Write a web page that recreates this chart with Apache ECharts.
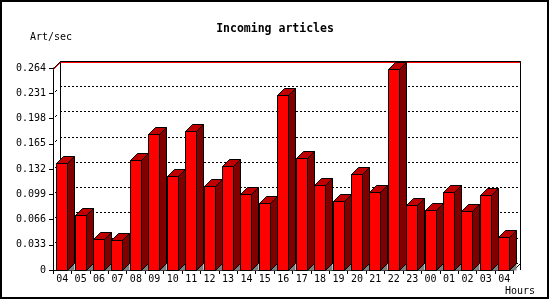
<!DOCTYPE html>
<html><head><meta charset="utf-8">
<script src="https://cdn.jsdelivr.net/npm/echarts@6/dist/echarts.min.js"></script>
<style>html,body{margin:0;padding:0;background:#fff}#c{width:550px;height:300px}</style>
</head><body><div id="c"></div>
<script>
const hours = ['04','05','06','07','08','09','10','11','12','13','14','15','16','17','18','19','20','21','22','23','00','01','02','03','04'];
const artPerSec = [0.1394, 0.0715, 0.0401, 0.0388, 0.1433, 0.1773, 0.1224, 0.1812, 0.1093, 0.1359, 0.0993, 0.0863, 0.2283, 0.1460, 0.1107, 0.0897, 0.1242, 0.1015, 0.2623, 0.0845, 0.0780, 0.1015, 0.0767, 0.0976, 0.0427];
const yMin = 0;
const yMax = 0.264;
const yStep = 0.033;
const yTickLabels = ['0', '0.033', '0.066', '0.099', '0.132', '0.165', '0.198', '0.231', '0.264'];
const titleText = 'Incoming articles';
const yName = 'Art/sec';
const xName = 'Hours';

const FONT = 'DejaVu Sans Mono';
const D = 7;      // 3D depth
const BW = 11;    // bar front width
const c = v => Math.round(v - 0.5) + 0.5;

function barItem(params, api) {
  const i = api.value(0), v = api.value(1);
  const t = api.coord([i, v]), b = api.coord([i, yMin]);
  const x0 = c(t[0] - BW / 2), x1 = x0 + BW;
  const yt = c(t[1]), yb = c(b[1]);
  return { type: 'group', children: [
    { type: 'polygon', shape: { points: [[x1, yb], [x1 + D, yb - D], [x1 + D, yb]] }, style: { fill: '#808080' } },
    { type: 'rect', shape: { x: x0, y: yt, width: BW, height: yb - yt }, style: { fill: '#ff0000', stroke: '#000', lineWidth: 1 } },
    { type: 'polygon', shape: { points: [[x1, yt], [x1 + D, yt - D], [x1 + D, yb - D], [x1, yb]] }, style: { fill: '#800000', stroke: '#000', lineWidth: 1 } },
    { type: 'polygon', shape: { points: [[x0, yt], [x0 + D, yt - D], [x1 + D, yt - D], [x1, yt]] }, style: { fill: '#c00000', stroke: '#000', lineWidth: 1 } }
  ]};
}

function frameItem(params, api) {
  const cs = params.coordSys;
  const L = c(cs.x), R = c(cs.x + cs.width);
  const T = api.coord([0, yMax])[1], B = api.coord([0, yMin])[1];
  const bt = c(T - D), bb = c(B - D);
  const line = (x1, y1, x2, y2, col) => ({ type: 'line', shape: { x1, y1, x2, y2 }, style: { stroke: col, lineWidth: 1 } });
  const ch = [
    line(L + D, bt, R + D, bt, '#000'),
    line(L + D, bt + 1, R + D, bt + 1, '#ff0000'),
    line(L + D, bt, L + D, bb, '#000'),
    line(R + D, bt, R + D, B, '#000'),
    line(L, c(T), L + D, bt, '#000'),
    line(L, c(T) + 1, L + D, bt + 1, '#ff0000'),
    line(R, c(B), R + D, bb, '#000')
  ];
  for (let k = 1; k < yTickLabels.length - 1; k++) {
    const y = c(api.coord([0, yMin + k * yStep])[1]);
    ch.push(line(L + 1.5, y - 1.5, L + 3.5, y - 3.5, '#000'));
  }
  return { type: 'group', children: ch };
}

const chart = echarts.init(document.getElementById('c'), null, { renderer: 'canvas' });
chart.setOption({
  animation: false,
  backgroundColor: '#fff',
  title: { text: titleText, left: 'center', top: 18, textStyle: { fontFamily: FONT, fontWeight: 'bold', fontSize: 11.5, color: '#000' } },
  graphic: [
    { type: 'rect', shape: { x: 1, y: 1, width: 547, height: 297 }, style: { fill: null, stroke: '#000', lineWidth: 2 }, silent: true },
    { type: 'text', x: 30, y: 37, style: { text: yName, font: '10px ' + FONT, fill: '#000', textVerticalAlign: 'middle' } },
    { type: 'text', x: 505, y: 291, style: { text: xName, font: '10px ' + FONT, fill: '#000', textVerticalAlign: 'middle' } }
  ],
  grid: [
    { left: 53, top: 68, right: 36.5, bottom: 30, containLabel: false, outerBoundsMode: 'none' },
    { left: 60, top: 61, right: 29.5, bottom: 37, containLabel: false, outerBoundsMode: 'none' }
  ],
  xAxis: [
    { type: 'category', gridIndex: 0, data: hours, boundaryGap: true,
      axisLine: { show: true, lineStyle: { color: '#000', width: 1 } },
      axisTick: { show: true, interval: 0, length: 4, alignWithLabel: false, lineStyle: { color: '#000' } },
      axisLabel: { interval: 0, margin: 4, fontFamily: FONT, fontSize: 10, color: '#000' },
      splitLine: { show: false } },
    { type: 'category', gridIndex: 1, data: hours, show: false }
  ],
  yAxis: [
    { type: 'value', gridIndex: 0, min: yMin, max: yMax, interval: yStep,
      axisLine: { show: true, lineStyle: { color: '#000', width: 1 } },
      axisTick: { show: true, length: 4, lineStyle: { color: '#000' } },
      axisLabel: { margin: 7, fontFamily: FONT, fontSize: 10, color: '#000',
        formatter: v => yTickLabels[Math.round((v - yMin) / yStep)] },
      splitLine: { show: false } },
    { type: 'value', gridIndex: 1, min: yMin, max: yMax, interval: yStep,
      axisLine: { show: false }, axisTick: { show: false }, axisLabel: { show: false },
      splitLine: { show: true, lineStyle: { color: '#000', type: [2, 2], width: 1 } } }
  ],
  series: [
    { type: 'custom', xAxisIndex: 0, yAxisIndex: 0, z: 1, silent: true, renderItem: frameItem, data: [[0, 0]], clip: false },
    { type: 'custom', xAxisIndex: 0, yAxisIndex: 0, z: 2, renderItem: barItem, clip: false,
      encode: { x: 0, y: 1 }, data: artPerSec.map((v, i) => [i, v]) }
  ]
});
</script>
</body></html>
